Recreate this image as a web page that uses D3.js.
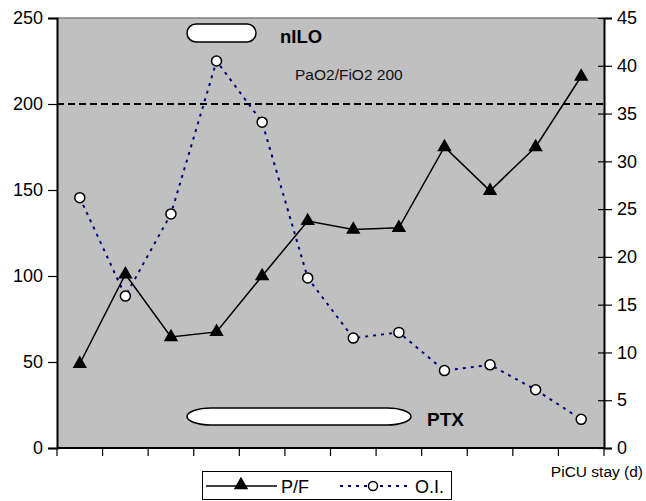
<!DOCTYPE html>
<html>
<head>
<meta charset="utf-8">
<script src="https://cdn.jsdelivr.net/npm/d3@7.9.0/dist/d3.min.js"></script>
<style>
  body { margin: 0; background: #fff; }
  svg { display: block; font-family: "Liberation Sans", Arial, sans-serif; }
</style>
</head>
<body>
<svg id="chart" width="646" height="501"></svg>
<script>
// PiCU stay days (no labels shown on the axis)
const days = [1, 2, 3, 4, 5, 6, 7, 8, 9, 10, 11, 12];
// PaO2/FiO2 ratio, left axis
const pfValues = [49, 101, 64.5, 67.5, 100, 132, 127, 128, 175, 149.5, 175, 216];
// oxygenation index, right axis
const oiValues = [26.2, 15.9, 24.5, 40.5, 34.1, 17.8, 11.5, 12.1, 8.1, 8.7, 6.1, 3.0];

const leftTicks = [0, 50, 100, 150, 200, 250];
const rightTicks = [0, 5, 10, 15, 20, 25, 30, 35, 40, 45];
const threshold = 200;

const svg = d3.select('#chart');
const plotLeft = 57, plotRight = 604, plotTop = 18, plotBottom = 448;

const x = d3.scaleBand().domain(days).range([plotLeft, plotRight]);
const yLeft = d3.scaleLinear().domain([0, 250]).range([plotBottom, plotTop]);
const yRight = d3.scaleLinear().domain([0, 45]).range([plotBottom, plotTop]);

// plot area
svg.append('rect')
  .attr('x', plotLeft).attr('y', plotTop)
  .attr('width', plotRight - plotLeft).attr('height', plotBottom - plotTop)
  .attr('fill', '#c0c0c0');
svg.append('line')
  .attr('x1', plotLeft).attr('x2', plotRight).attr('y1', plotTop).attr('y2', plotTop)
  .attr('stroke', '#808080').attr('stroke-width', 1.5);

// axes
const leftAxis = svg.append('g')
  .attr('transform', `translate(${plotLeft},0)`)
  .call(d3.axisLeft(yLeft).tickValues(leftTicks).tickSize(9).tickPadding(5));
const rightAxis = svg.append('g')
  .attr('transform', `translate(${plotRight},0)`)
  .call(d3.axisRight(yRight).tickValues(rightTicks).tickSize(8).tickPadding(5));
rightAxis.selectAll('.tick line').attr('x1', -6);

const bottomAxis = svg.append('g')
  .attr('transform', `translate(0,${plotBottom})`);
bottomAxis.append('line')
  .attr('x1', plotLeft).attr('x2', plotRight)
  .attr('stroke', '#000').attr('stroke-width', 2);
bottomAxis.selectAll('line.tk')
  .data(days.concat([null]))
  .enter()
  .append('line')
  .attr('class', 'tk')
  .attr('x1', (d, i) => i < days.length ? x(d) : plotRight)
  .attr('x2', (d, i) => i < days.length ? x(d) : plotRight)
  .attr('y1', 0).attr('y2', 8)
  .attr('stroke', '#000').attr('stroke-width', 1.2);

[leftAxis, rightAxis].forEach(ax => {
  ax.select('.domain').attr('stroke-width', 2);
  ax.selectAll('.tick line').attr('stroke-width', 1.2);
  ax.selectAll('.tick text')
    .attr('font-size', 18)
    .attr('font-family', '"Liberation Sans", Arial, sans-serif')
    .attr('fill', '#000');
});

svg.append('text')
  .attr('x', 643).attr('y', 477)
  .attr('text-anchor', 'end')
  .attr('font-size', 15.5)
  .text('PiCU stay (d)');

// threshold line
svg.append('line')
  .attr('x1', plotLeft).attr('x2', plotRight)
  .attr('y1', yLeft(threshold)).attr('y2', yLeft(threshold))
  .attr('stroke', '#000').attr('stroke-width', 2.2)
  .attr('stroke-dasharray', '7,4');
svg.append('text')
  .attr('x', 295).attr('y', 80)
  .attr('font-size', 15.5)
  .attr('fill', '#111')
  .text('PaO2/FiO2 ' + threshold);

// annotations
svg.append('rect')
  .attr('x', 187).attr('y', 24).attr('width', 69).attr('height', 18).attr('rx', 9)
  .attr('fill', '#fff').attr('stroke', '#000').attr('stroke-width', 1.5);
svg.append('text')
  .attr('x', 280).attr('y', 43)
  .attr('font-size', 18.5).attr('font-weight', 'bold')
  .text('nILO');

svg.append('path')
  .attr('d', 'M211,408 H387 A24,8.5 0 0 1 387,425 H211 A24,8.5 0 0 1 211,408 Z')
  .attr('fill', '#fff').attr('stroke', '#000').attr('stroke-width', 1.5);
svg.append('text')
  .attr('x', 427).attr('y', 426)
  .attr('font-size', 19).attr('font-weight', 'bold')
  .text('PTX');

const cx = d => x(d) + x.bandwidth() / 2;
const triangle = d3.symbol().type(d3.symbolTriangle).size(90);

// O.I. series
svg.append('path')
  .datum(days)
  .attr('d', d3.line().x(cx).y((d, i) => yRight(oiValues[i])))
  .attr('fill', 'none')
  .attr('stroke', '#000080').attr('stroke-width', 2)
  .attr('stroke-dasharray', '3,5');
svg.selectAll('circle.oi')
  .data(days)
  .enter()
  .append('circle')
  .attr('class', 'oi')
  .attr('cx', cx)
  .attr('cy', (d, i) => yRight(oiValues[i]))
  .attr('r', 5)
  .attr('fill', '#fff').attr('stroke', '#000').attr('stroke-width', 1.5);

// P/F series
svg.append('path')
  .datum(days)
  .attr('d', d3.line().x(cx).y((d, i) => yLeft(pfValues[i])))
  .attr('fill', 'none')
  .attr('stroke', '#000').attr('stroke-width', 1.5);
svg.selectAll('path.pf')
  .data(days)
  .enter()
  .append('path')
  .attr('class', 'pf')
  .attr('d', triangle)
  .attr('transform', (d, i) => `translate(${cx(d)},${yLeft(pfValues[i])})`)
  .attr('fill', '#000');

// legend
const legend = svg.append('g');
legend.append('rect')
  .attr('x', 202.5).attr('y', 471.5).attr('width', 249).attr('height', 28)
  .attr('fill', '#fff').attr('stroke', '#000').attr('stroke-width', 1);
legend.append('line')
  .attr('x1', 206).attr('x2', 277).attr('y1', 486).attr('y2', 486)
  .attr('stroke', '#000').attr('stroke-width', 1.5);
legend.append('path')
  .attr('d', triangle)
  .attr('transform', 'translate(241,485)');
legend.append('text')
  .attr('x', 281).attr('y', 493).attr('font-size', 18).text('P/F');
legend.append('line')
  .attr('x1', 340).attr('x2', 409).attr('y1', 486).attr('y2', 486)
  .attr('stroke', '#000080').attr('stroke-width', 2)
  .attr('stroke-dasharray', '3,5');
legend.append('circle')
  .attr('cx', 373).attr('cy', 486).attr('r', 4.5)
  .attr('fill', '#fff').attr('stroke', '#000').attr('stroke-width', 1.5);
legend.append('text')
  .attr('x', 415).attr('y', 493).attr('font-size', 18).text('O.I.');
</script>
</body>
</html>
